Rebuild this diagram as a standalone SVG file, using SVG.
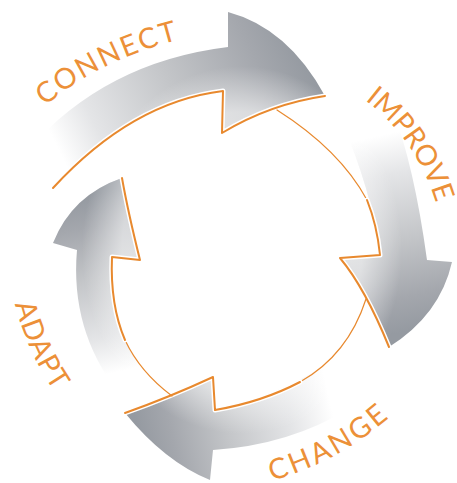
<svg xmlns="http://www.w3.org/2000/svg" width="457" height="483" viewBox="0 0 457 483">
<defs>
<linearGradient id="gConnect" gradientUnits="userSpaceOnUse" x1="40" y1="178" x2="300" y2="50">
<stop offset="0" stop-color="#ffffff"/>
<stop offset="0.1" stop-color="#ffffff"/>
<stop offset="0.25" stop-color="#e4e5e7"/>
<stop offset="0.55" stop-color="#c3c5c8"/>
<stop offset="0.85" stop-color="#a4a7ad"/>
<stop offset="1" stop-color="#959aa1"/>
</linearGradient>
<linearGradient id="gImprove" gradientUnits="userSpaceOnUse" x1="362" y1="112" x2="412" y2="330">
<stop offset="0" stop-color="#ffffff"/>
<stop offset="0.12" stop-color="#ffffff"/>
<stop offset="0.3" stop-color="#e4e5e7"/>
<stop offset="0.6" stop-color="#c3c5c8"/>
<stop offset="0.85" stop-color="#a4a7ad"/>
<stop offset="1" stop-color="#959aa1"/>
</linearGradient>
<linearGradient id="gChange" gradientUnits="userSpaceOnUse" x1="350" y1="392" x2="140" y2="440">
<stop offset="0" stop-color="#ffffff"/>
<stop offset="0.1" stop-color="#ffffff"/>
<stop offset="0.3" stop-color="#e4e5e7"/>
<stop offset="0.6" stop-color="#c3c5c8"/>
<stop offset="0.85" stop-color="#a4a7ad"/>
<stop offset="1" stop-color="#959aa1"/>
</linearGradient>
<linearGradient id="gAdapt" gradientUnits="userSpaceOnUse" x1="138" y1="392" x2="92" y2="195">
<stop offset="0" stop-color="#ffffff"/>
<stop offset="0.12" stop-color="#ffffff"/>
<stop offset="0.3" stop-color="#e4e5e7"/>
<stop offset="0.6" stop-color="#c3c5c8"/>
<stop offset="0.85" stop-color="#a4a7ad"/>
<stop offset="1" stop-color="#959aa1"/>
</linearGradient>
<radialGradient id="shade" gradientUnits="userSpaceOnUse" cx="242" cy="250" r="200" gradientTransform="translate(242 250) scale(1 1.15) translate(-242 -250)">
<stop offset="0.6" stop-color="#ffffff" stop-opacity="0.55"/>
<stop offset="0.8" stop-color="#ffffff" stop-opacity="0"/>
</radialGradient>
<path id="tpConnect" d="M 45 106 Q 100 60 178 40 L 197 35"/>
<path id="tpImprove" d="M 365 100 Q 417 140 436 203 L 442 222"/>
<path id="tpChange" d="M 272 481 Q 338 462 390 417 L 405 404"/>
<path id="tpAdapt" d="M 15 304 Q 27 351 54 391 L 65 408"/>
</defs>
<style>
.halo{fill:none;stroke:#ffffff;stroke-width:5;stroke-linejoin:round;stroke-linecap:round}
.line{fill:none;stroke:#e8892e;stroke-width:2;stroke-linejoin:round;stroke-linecap:round}
.thin{fill:none;stroke:#e8892e;stroke-width:1.2;stroke-linecap:round}
.label{font-family:Lato,"Liberation Sans",sans-serif;font-weight:400;font-size:28.5px;fill:#ec9038}
.shade{fill:url(#shade)}
</style>
<rect width="457" height="483" fill="#ffffff"/>

<g id="connect">
<path d="M 28 150 Q 105 62 228 47 L 228 12 Q 288 28 325 96 Q 270 104 222 133 L 223 91 Q 130 100 48 196 Z" fill="url(#gConnect)"/>
<path class="shade" d="M 28 150 Q 105 62 228 47 L 228 12 Q 288 28 325 96 Q 270 104 222 133 L 223 91 Q 130 100 48 196 Z"/>
<text class="label"><textPath href="#tpConnect" textLength="150" lengthAdjust="spacing">CONNECT</textPath></text>
</g>

<g id="improve">
<path d="M 340 118 L 392 108 Q 414 165 427 260 L 452 262 Q 440 315 389 347 Q 365 288 340 258 L 380 255 Q 372 190 340 118 Z" fill="url(#gImprove)"/>
<path class="shade" d="M 340 118 L 392 108 Q 414 165 427 260 L 452 262 Q 440 315 389 347 Q 365 288 340 258 L 380 255 Q 372 190 340 118 Z"/>
<text class="label"><textPath href="#tpImprove" textLength="127" lengthAdjust="spacing">IMPROVE</textPath></text>
</g>

<g id="change">
<path d="M 213 450 Q 290 445 350 408 L 343 350 Q 300 390 215 410 L 213 377 Q 170 397 125 413 Q 165 462 210 480 Z" fill="url(#gChange)"/>
<path class="shade" d="M 213 450 Q 290 445 350 408 L 343 350 Q 300 390 215 410 L 213 377 Q 170 397 125 413 Q 165 462 210 480 Z"/>
<text class="label"><textPath href="#tpChange" textLength="134" lengthAdjust="spacing">CHANGE</textPath></text>
</g>

<g id="adapt">
<path d="M 77 250 Q 70 330 118 392 L 150 378 Q 105 325 112 257 L 140 260 Q 128 212 122 178 Q 72 195 53 243 Z" fill="url(#gAdapt)"/>
<path class="shade" d="M 77 250 Q 70 330 118 392 L 150 378 Q 105 325 112 257 L 140 260 Q 128 212 122 178 Q 72 195 53 243 Z"/>
<text class="label"><textPath href="#tpAdapt" textLength="96" lengthAdjust="spacing">ADAPT</textPath></text>
</g>

<g id="connectors">
<path class="halo" d="M 53 188 Q 132 102 223 91 L 222 133 Q 270 104 325 96"/>
<path class="line" d="M 53 188 Q 132 102 223 91 L 222 133 Q 270 104 325 96"/>
<path class="thin" d="M 277 110 Q 340 150 367 200"/>
<path class="halo" d="M 367 200 Q 377 225 380 255 L 340 258 Q 365 288 389 347"/>
<path class="line" d="M 367 200 Q 377 225 380 255 L 340 258 Q 365 288 389 347"/>
<path class="thin" d="M 366 299 Q 348 355 300 382"/>
<path class="halo" d="M 300 382 Q 262 402 215 410 L 213 377 Q 170 397 125 413"/>
<path class="line" d="M 300 382 Q 262 402 215 410 L 213 377 Q 170 397 125 413"/>
<path class="thin" d="M 172 396 Q 140 372 125 340"/>
<path class="halo" d="M 125 340 Q 110 305 112 257 L 140 260 Q 128 212 122 178"/>
<path class="line" d="M 125 340 Q 110 305 112 257 L 140 260 Q 128 212 122 178"/>
</g>
</svg>
